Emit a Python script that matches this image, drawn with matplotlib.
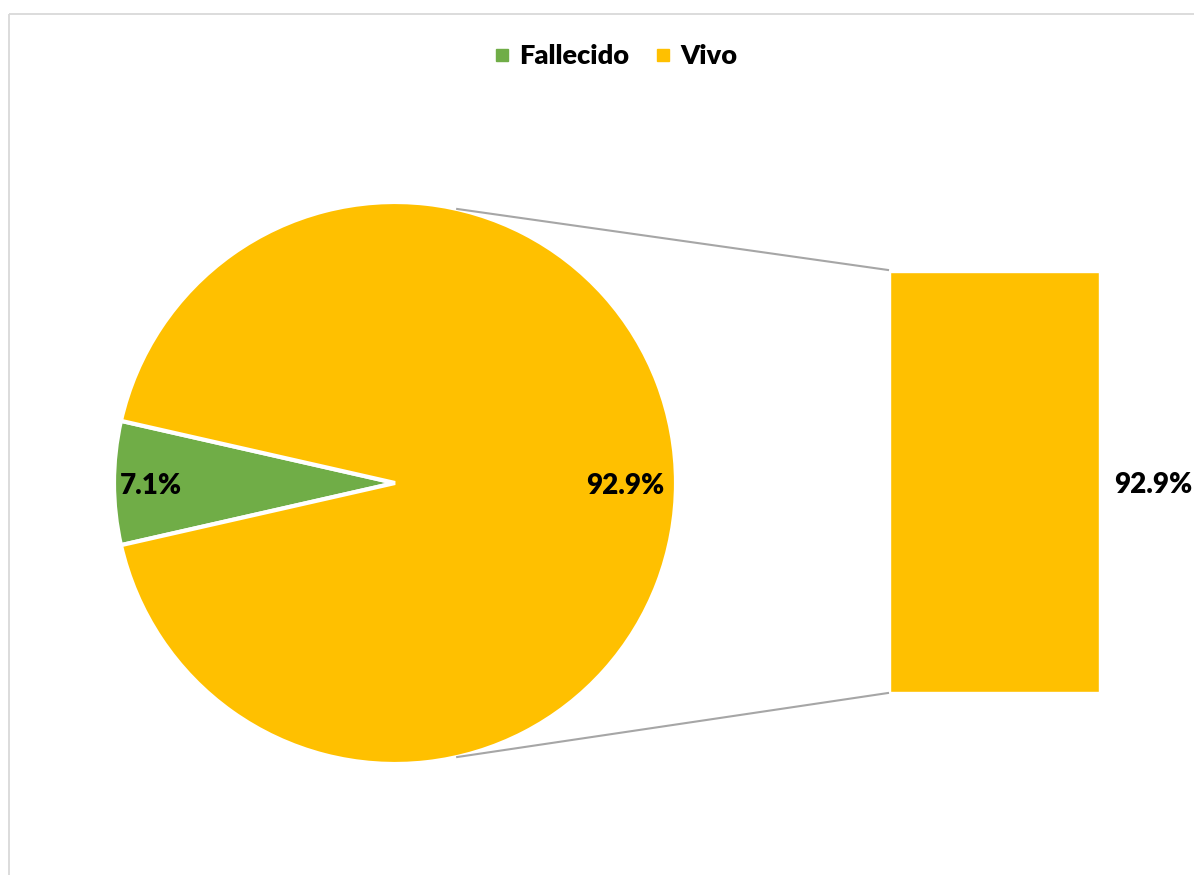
import numpy as np
import matplotlib.pyplot as plt
from matplotlib.lines import Line2D
from matplotlib.patches import Rectangle

# Estado del paciente (%)
labels = ['Fallecido', 'Vivo']
values = [7.1, 92.9]
colors = ['#70AD47', '#FFC000']

# Desglose mostrado en la barra secundaria
bar_values = [92.9]

plt.rcParams['font.family'] = ['Lato', 'DejaVu Sans']

fig = plt.figure(figsize=(11.94, 8.75), dpi=100)
ax = fig.add_axes([0, 0, 1, 1])

# pie geometry (pixel-like coordinates, y grows downward)
cx, cy, r = 395, 483, 281
half = values[0] / sum(values) * 360 / 2
wedges, _ = ax.pie(values, colors=colors, startangle=180 - half, center=(cx, cy), radius=r,
                   wedgeprops=dict(edgecolor='white', linewidth=3))

# data labels inside the slices
label_dist = [0.87, 0.82]
for w, v, d in zip(wedges, values, label_dist):
    ang = np.deg2rad((w.theta1 + w.theta2) / 2)
    ax.text(cx + d * r * np.cos(ang), cy + d * r * np.sin(ang) + 3, f'{v:.1f}%',
            ha='center', va='center', fontsize=20, fontweight='heavy', color='black')

# secondary bar
bar_left, bar_top, bar_w = 890, 272, 209
px_per_pct = 420 / 92.9
bottom = bar_top
for v in bar_values:
    h = v * px_per_pct
    ax.bar(bar_left + bar_w / 2, h, width=bar_w, bottom=bottom, color=colors[1], edgecolor='white', linewidth=1)
    ax.text(bar_left + bar_w + 15, bottom + h / 2 + 3, f'{v:.1f}%', ha='left', va='center',
            fontsize=20, fontweight='heavy', color='black')
    bottom += h

# connector lines from the pie to the bar
ang = np.deg2rad(90 - half)
ax.plot([cx + r * np.cos(ang), bar_left - 2], [cy - r * np.sin(ang), bar_top - 2], color='#a6a6a6', lw=1.5)
ax.plot([cx + r * np.cos(ang), bar_left - 2], [cy + r * np.sin(ang), bottom + 1], color='#a6a6a6', lw=1.5)

# chart area border
ax.add_patch(Rectangle((9, 14), 1300, 1000, fill=False, edgecolor='#d9d9d9', lw=1.3))

ax.set_xlim(0, 1194)
ax.set_ylim(875, 0)
ax.set_aspect('equal')
ax.axis('off')

handles = [Line2D([], [], marker='s', ls='', color=c, markersize=9) for c in colors]
leg = fig.legend(handles, labels, loc='center', bbox_to_anchor=(613 / 1194, 1 - 56 / 875), ncol=2,
                 frameon=False, handletextpad=0.15, columnspacing=0.75, handlelength=1,
                 prop=dict(size=19.5, weight='heavy'))

fig.savefig('out.png', dpi=100)
